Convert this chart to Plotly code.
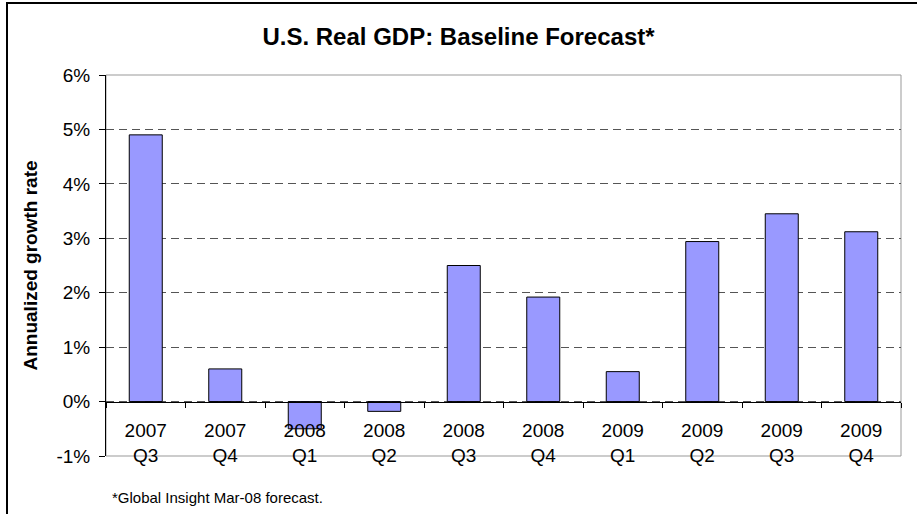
import plotly.graph_objects as go

categories = ["2007<br>Q3", "2007<br>Q4", "2008<br>Q1", "2008<br>Q2", "2008<br>Q3",
              "2008<br>Q4", "2009<br>Q1", "2009<br>Q2", "2009<br>Q3", "2009<br>Q4"]
growth = [4.9, 0.6, -0.5, -0.18, 2.5, 1.92, 0.55, 2.94, 3.45, 3.12]
y_tickvals = [-1, 0, 1, 2, 3, 4, 5, 6]
y_ticktext = ["-1%", "0%", "1%", "2%", "3%", "4%", "5%", "6%"]

W, H = 917, 514
ML, MR, MT, MB = 106, 16, 75, 58
PW, PH = W - ML - MR, H - MT - MB
FONT = "Liberation Sans, Arial, sans-serif"

def px_x(p):
    return (p - ML) / PW

def px_y(p):
    return (H - MB - p) / PH

fig = go.Figure()
fig.add_trace(go.Bar(
    x=categories, y=growth,
    marker=dict(color="#9999FF", line=dict(color="#000000", width=1)),
))

ymin, ymax = -1, 6
fig.update_layout(
    width=W, height=H,
    margin=dict(l=ML, r=MR, t=MT, b=MB, pad=0),
    paper_bgcolor="white", plot_bgcolor="white",
    showlegend=False,
    bargap=0.585,
    font=dict(family=FONT, size=19, color="black"),
    title=dict(text="<b>U.S. Real GDP: Baseline Forecast*</b>",
               font=dict(family=FONT, size=24, color="black"),
               x=0.5, xanchor="center", xref="container",
               y=1 - 37 / H, yanchor="middle", yref="container"),
    xaxis=dict(type="category", range=[-0.5, len(categories) - 0.5],
               anchor="free", position=(0 - ymin) / (ymax - ymin),
               showline=True, linecolor="black", linewidth=1,
               ticks="outside", tickson="boundaries", ticklen=5,
               tickcolor="black", showgrid=False, ticklabelstandoff=12,
               tickfont=dict(family=FONT, size=19, color="black")),
    yaxis=dict(range=[ymin, ymax], tickvals=y_tickvals, ticktext=y_ticktext,
               showline=True, linecolor="black", linewidth=1,
               ticks="outside", ticklen=6, tickcolor="black",
               ticklabelstandoff=5,
               showgrid=True, gridcolor="#555555", griddash="8px,5px", gridwidth=1,
               zeroline=False,
               tickfont=dict(family=FONT, size=19, color="black")),
)

# plot area border (gray)
fig.add_shape(type="rect", xref="x domain", yref="y domain", x0=0, x1=1, y0=0, y1=1,
              line=dict(color="#999999", width=1), layer="below")
# outer frame (left and top edges)
fig.add_shape(type="path", xref="paper", yref="paper",
              path=f"M {px_x(7)},{px_y(H + 50)} L {px_x(7)},{px_y(3)} L {px_x(W + 50)},{px_y(3)}",
              line=dict(color="black", width=2))

fig.add_annotation(text="<b>Annualized growth rate</b>", xref="paper", yref="paper",
                   x=px_x(30), y=0.5, textangle=-90, showarrow=False,
                   xanchor="center", yanchor="middle",
                   font=dict(family=FONT, size=19, color="black"))
fig.add_annotation(text="*Global Insight Mar-08 forecast.", xref="paper", yref="paper",
                   x=px_x(110), y=px_y(497), showarrow=False,
                   xanchor="left", yanchor="middle",
                   font=dict(family=FONT, size=15, color="black"))

fig.write_html("out.html")
